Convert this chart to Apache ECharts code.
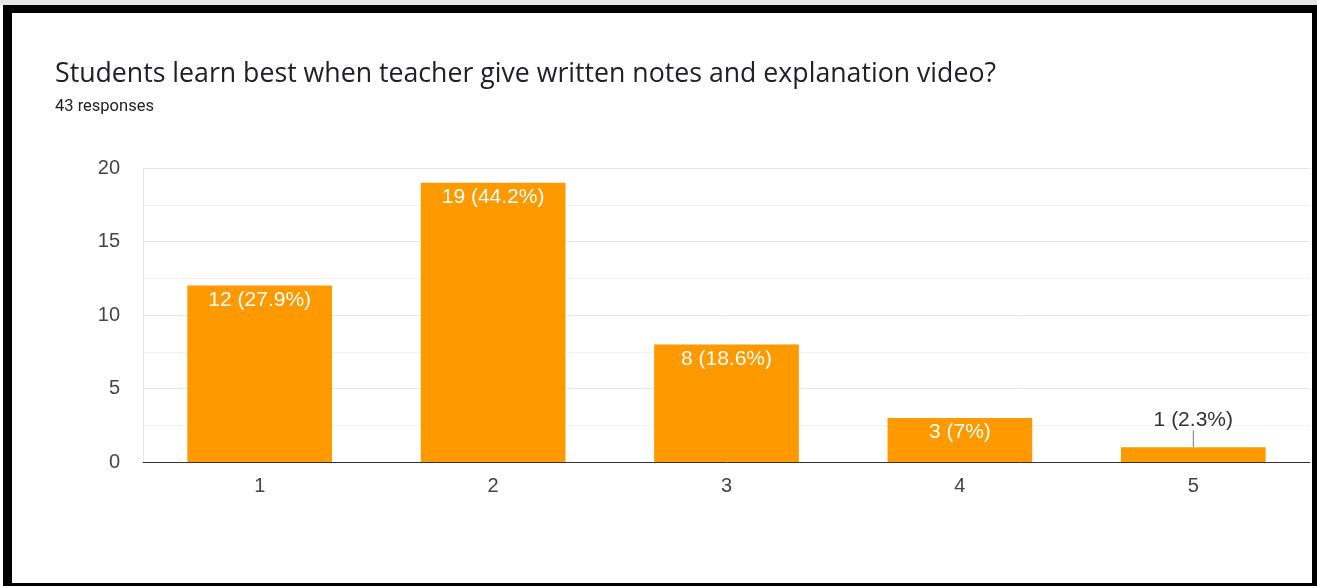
<!DOCTYPE html>
<html><head><meta charset="utf-8">
<script src="https://cdn.jsdelivr.net/npm/echarts@6/dist/echarts.min.js"></script>
<style>html,body{margin:0;padding:0;background:#fff}#c{width:1317px;height:586px}</style>
</head><body><div id="c"></div>
<script>
const titleText = 'Students learn best when teacher give written notes and explanation video?';
const subtitleText = '43 responses';
const categories = ['1', '2', '3', '4', '5'];
const counts = [12, 19, 8, 3, 1];
const percents = ['27.9%', '44.2%', '18.6%', '7%', '2.3%'];
const yTicks = [0, 5, 10, 15, 20];

const chart = echarts.init(document.getElementById('c'));
const data = counts.map((v, i) => {
  if (v < 2) {
    return { value: v, label: { position: 'top', color: '#333', distance: 4 }, labelLine: { show: true, lineStyle: { color: '#777', width: 1 } } };
  }
  return v;
});
chart.setOption({
  animation: false,
  title: {
    text: titleText,
    subtext: subtitleText,
    left: 50, top: 56,
    itemGap: 10,
    textStyle: { fontFamily: 'Open Sans', fontWeight: 'normal', fontSize: 26.7, color: '#202124' },
    subtextStyle: { fontFamily: 'Roboto', fontSize: 16.5, color: '#202124' }
  },
  graphic: [
    { type: 'rect', shape: { x: 0, y: 0, width: 1317, height: 5 }, style: { fill: '#e6e6e6' }, z: 100 },
    { type: 'rect', shape: { x: 3, y: 5, width: 1314, height: 8 }, style: { fill: '#000' }, z: 100 },
    { type: 'rect', shape: { x: 3, y: 5, width: 9, height: 581 }, style: { fill: '#000' }, z: 100 },
    { type: 'rect', shape: { x: 1312, y: 5, width: 5, height: 581 }, style: { fill: '#000' }, z: 100 },
    { type: 'rect', shape: { x: 3, y: 583, width: 1314, height: 3 }, style: { fill: '#000' }, z: 100 }
  ],
  grid: { left: 143, right: 7, top: 168, bottom: 124, containLabel: false },
  xAxis: {
    type: 'category', data: categories,
    axisLine: { lineStyle: { color: '#333', width: 1 } },
    axisTick: { show: false },
    axisLabel: { fontFamily: 'Liberation Sans, Arial', fontSize: 20, color: '#444', margin: 14 }
  },
  yAxis: {
    type: 'value', min: yTicks[0], max: yTicks[yTicks.length - 1], interval: 5,
    axisLine: { show: true, lineStyle: { color: '#e6e6e6' } },
    axisTick: { show: false },
    axisLabel: { fontFamily: 'Liberation Sans, Arial', fontSize: 20, color: '#444', margin: 23 },
    splitLine: { lineStyle: { color: '#e6e6e6' } },
    minorTick: { show: false, splitNumber: 2 },
    minorSplitLine: { show: true, lineStyle: { color: '#f2f2f2' } }
  },
  series: [{
    type: 'bar', data: data, barWidth: '62%',
    itemStyle: { color: '#ff9900' },
    label: {
      show: true, position: 'insideTop', distance: 4,
      fontFamily: 'Liberation Sans, Arial', fontSize: 21, color: '#fff',
      formatter: p => counts[p.dataIndex] + ' (' + percents[p.dataIndex] + ')'
    },
    labelLayout: p => (counts[p.dataIndex] < 2 ? { dy: -13 } : {})
  }]
});
</script></body></html>
